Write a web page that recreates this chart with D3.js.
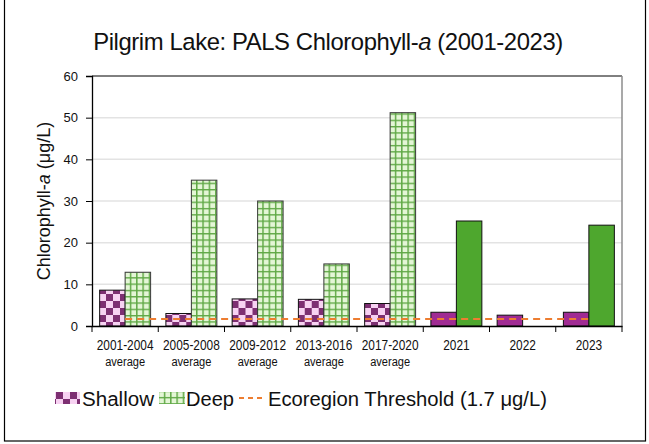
<!DOCTYPE html>
<html>
<head>
<meta charset="utf-8">
<script src="https://cdn.jsdelivr.net/npm/d3@7"></script>
<style>
  body { margin: 0; background: #fff; }
  svg { display: block; }
</style>
</head>
<body>
<svg id="chart"></svg>
<script>
// data
const categories = ["2001-2004|average", "2005-2008|average", "2009-2012|average", "2013-2016|average",
                    "2017-2020|average", "2021", "2022", "2023"];
const series = ["Shallow", "Deep"];
const shallow = [8.6, 3.0, 6.5, 6.4, 5.4, 3.3, 2.6, 3.3];
const deep = [12.9, 35.0, 30.0, 14.9, 51.2, 25.2, null, 24.2];
const threshold = 1.7;
const yTicks = [0, 10, 20, 30, 40, 50, 60];

const W = 649, H = 444;
const margin = {top: 76, right: 27, bottom: 118, left: 92};
const narrow = 0.82; // horizontal squeeze to mimic the condensed font

const svg = d3.select("#chart").attr("width", W).attr("height", H);

// patterns
const defs = svg.append("defs");
const chk = defs.append("pattern").attr("id", "chk")
  .attr("patternUnits", "userSpaceOnUse").attr("width", 14).attr("height", 14);
chk.append("rect").attr("width", 14).attr("height", 14).attr("fill", "#f7d2f2");
chk.append("rect").attr("width", 7).attr("height", 7).attr("fill", "#7d2f72");
chk.append("rect").attr("x", 7).attr("y", 7).attr("width", 7).attr("height", 7).attr("fill", "#7d2f72");

const grid = defs.append("pattern").attr("id", "grid")
  .attr("patternUnits", "userSpaceOnUse").attr("width", 6.3).attr("height", 6.3);
grid.append("rect").attr("width", 6.3).attr("height", 6.3).attr("fill", "#e4f6d6");
grid.append("path").attr("d", "M0,0.7H6.3M0.7,0V6.3")
  .attr("stroke", "#5fa845").attr("stroke-width", 1.5);

// frame
svg.append("rect").attr("x", 4.5).attr("y", -2).attr("width", 641).attr("height", 443)
  .attr("fill", "none").attr("stroke", "#000").attr("stroke-width", 1.2);

const x0 = d3.scaleBand().domain(categories).range([margin.left, W - margin.right]);
const x1 = d3.scaleBand().domain(series).range([0, x0.bandwidth()]).paddingOuter(0.3);
const y = d3.scaleLinear().domain([0, 60]).range([H - margin.bottom, margin.top]);

// gridlines
svg.append("g").selectAll("line").data(yTicks.filter(d => d > 0 && d < 60)).join("line")
  .attr("x1", margin.left).attr("x2", W - margin.right)
  .attr("y1", d => y(d)).attr("y2", d => y(d))
  .attr("stroke", "#e3e3e3").attr("stroke-width", 1.5);

// plot area top and right edges
svg.append("line").attr("x1", margin.left).attr("x2", W - margin.right)
  .attr("y1", y(60)).attr("y2", y(60)).attr("stroke", "#000").attr("stroke-width", 1);
svg.append("line").attr("x1", W - margin.right).attr("x2", W - margin.right)
  .attr("y1", y(60)).attr("y2", y(0)).attr("stroke", "#8c8c8c").attr("stroke-width", 1.5);

// bars
const isAvg = c => c.indexOf("|") >= 0;
const rows = categories.map((c, i) => ({cat: c, Shallow: shallow[i], Deep: deep[i]}));
const groups = svg.append("g").selectAll("g").data(rows).join("g")
  .attr("transform", d => `translate(${x0(d.cat)},0)`);
groups.selectAll("rect")
  .data(d => series.filter(s => d[s] != null).map(s => ({s, v: d[s], avg: isAvg(d.cat)})))
  .join("rect")
  .attr("x", d => x1(d.s)).attr("width", x1.bandwidth())
  .attr("y", d => y(d.v)).attr("height", d => y(0) - y(d.v))
  .attr("fill", d => d.s === "Shallow" ? (d.avg ? "url(#chk)" : "#a02b93") : (d.avg ? "url(#grid)" : "#4ea72e"))
  .attr("stroke", d => d.avg && d.s === "Deep" ? "#3a3a3a" : "#111")
  .attr("stroke-width", 1);

// threshold line
svg.append("line")
  .attr("x1", x0(categories[0]) + x0.bandwidth() / 2)
  .attr("x2", x0(categories[categories.length - 1]) + x0.bandwidth() / 2)
  .attr("y1", y(threshold)).attr("y2", y(threshold))
  .attr("stroke", "#ed7d31").attr("stroke-width", 2).attr("stroke-dasharray", "7,5");

// y axis
const yAxis = svg.append("g").attr("transform", `translate(${margin.left},0)`)
  .call(d3.axisLeft(y).tickValues(yTicks).tickSize(6).tickPadding(8));
yAxis.select(".domain").attr("stroke", "#000").attr("stroke-width", 1.3);
yAxis.selectAll(".tick line").attr("stroke", "#000");
yAxis.selectAll("text").attr("font-family", "Liberation Sans, Arial, sans-serif")
  .attr("font-size", 13).attr("fill", "#111");

// x axis
const xAxis = svg.append("g").attr("transform", `translate(0,${y(0)})`)
  .call(d3.axisBottom(x0).tickSize(0).tickFormat(""));
xAxis.select(".domain").attr("stroke", "#000").attr("stroke-width", 1.3);
const bounds = categories.map(c => x0(c)).concat([W - margin.right]);
xAxis.selectAll(".sep").data(bounds).join("line").attr("class", "sep")
  .attr("x1", d => d).attr("x2", d => d).attr("y1", 0).attr("y2", 6)
  .attr("stroke", "#000");
const xl = svg.append("g").selectAll("text").data(categories).join("text")
  .attr("transform", d => `translate(${x0(d) + x0.bandwidth() / 2},${y(0)}) scale(${narrow},1)`)
  .attr("text-anchor", "middle")
  .attr("font-family", "Liberation Sans, Arial, sans-serif")
  .attr("fill", "#111");
xl.selectAll("tspan").data(d => d.split("|")).join("tspan")
  .attr("x", 0)
  .attr("y", (d, i) => 24 + i * 16)
  .attr("font-size", (d, i) => i === 0 ? 14.5 : 13.5)
  .text(d => d);

// y axis title
const yt = svg.append("text")
  .attr("transform", `translate(50,${(y(0) + y(60)) / 2}) rotate(-90)`)
  .attr("text-anchor", "middle")
  .attr("font-family", "Liberation Sans, Arial, sans-serif")
  .attr("font-size", 18).attr("fill", "#111");
yt.append("tspan").text("Chlorophyll-");
yt.append("tspan").attr("font-style", "italic").text("a");
yt.append("tspan").text(" (μg/L)");

// title, squeezed to the reference width
const title = svg.append("text")
  .attr("text-anchor", "middle")
  .attr("font-family", "Liberation Sans, Arial, sans-serif")
  .attr("font-size", 23.5).attr("fill", "#111").attr("letter-spacing", -0.4);
title.append("tspan").text("Pilgrim Lake:  PALS Chlorophyll-");
title.append("tspan").attr("font-style", "italic").text("a");
title.append("tspan").text(" (2001-2023)");
const tw = title.node().getBBox().width;
title.attr("transform", `translate(328,49.5) scale(${470 / tw},1)`);

// legend
const lg = svg.append("g").attr("font-family", "Liberation Sans, Arial, sans-serif")
  .attr("font-size", 20).attr("fill", "#111");
lg.append("rect").attr("x", 55).attr("y", 392).attr("width", 25).attr("height", 12).attr("fill", "url(#chk)");
lg.append("text").attr("x", 82).attr("y", 405.5).attr("textLength", 72)
  .attr("lengthAdjust", "spacingAndGlyphs").text(series[0]);
lg.append("rect").attr("x", 159).attr("y", 392).attr("width", 26).attr("height", 12).attr("fill", "url(#grid)");
lg.append("text").attr("x", 186).attr("y", 405.5).attr("textLength", 48)
  .attr("lengthAdjust", "spacingAndGlyphs").text(series[1]);
lg.append("line").attr("x1", 239).attr("x2", 264).attr("y1", 398).attr("y2", 398)
  .attr("stroke", "#ed7d31").attr("stroke-width", 2).attr("stroke-dasharray", "5,4");
lg.append("text").attr("x", 268).attr("y", 405.5).attr("textLength", 279)
  .attr("lengthAdjust", "spacingAndGlyphs").text(`Ecoregion Threshold (${threshold} μg/L)`);
</script>
</body>
</html>
